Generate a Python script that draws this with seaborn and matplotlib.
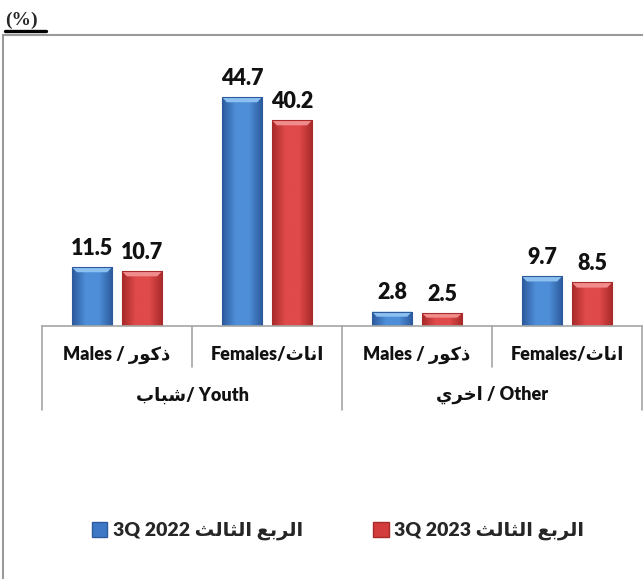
import numpy as np
import pandas as pd
import matplotlib
matplotlib.use("Agg")
import matplotlib.pyplot as plt
import seaborn as sns
from matplotlib.patches import Rectangle, Polygon, Patch
from matplotlib.lines import Line2D
from matplotlib.colors import LinearSegmentedColormap

# Arabic words in presentation forms (visual left-to-right order)
AR_MALES = "\uFEAD\uFEEE\uFEDB\uFEAB"        # ذكور
AR_FEMALES = "\uFE99\uFE8E\uFEE7\uFE8D"      # اناث
AR_YOUTH = "\uFE8F\uFE8E\uFE92\uFEB7"        # شباب
AR_OTHER = "\uFEF1\uFEAE\uFEA7\uFE8D"        # اخري
AR_QUARTER = "\uFE9A\uFEDF\uFE8E\uFE9C\uFEDF\uFE8D \uFECA\uFE91\uFEAE\uFEDF\uFE8D"  # الربع الثالث

# Data
categories = ["Youth Males", "Youth Females", "Other Males", "Other Females"]
sex_labels = ["Males / " + AR_MALES, "Females/" + AR_FEMALES,
              "Males / " + AR_MALES, "Females/" + AR_FEMALES]
group_labels = [AR_YOUTH + "/ Youth", AR_OTHER + " / Other"]
series_names = ["3Q 2022 " + AR_QUARTER, "3Q 2023 " + AR_QUARTER]
q3_2022 = [11.5, 44.7, 2.8, 9.7]
q3_2023 = [10.7, 40.2, 2.5, 8.5]

df = pd.DataFrame({
    "category": categories * 2,
    "series": [series_names[0]] * 4 + [series_names[1]] * 4,
    "value": q3_2022 + q3_2023,
})

sns.set_theme(style="white")
plt.rcParams["font.family"] = ["Lato", "DejaVu Sans"]
plt.rcParams["font.weight"] = "heavy"
TXT_W = "heavy"

W, H = 643, 579
fig = plt.figure(figsize=(W / 100, H / 100), dpi=100)

def px_rect(l, t, r, b):
    return [l / W, 1 - b / H, (r - l) / W, (b - t) / H]

ax = fig.add_axes(px_rect(42, 70, 642, 326))

BLUE, RED = "#3d78c6", "#d23c3c"
palette = {series_names[0]: BLUE, series_names[1]: RED}
sns.barplot(data=df, x="category", y="value", hue="series", order=categories,
            hue_order=series_names, palette=palette, width=0.667, gap=0.2,
            saturation=1, legend=False, ax=ax)

ax.set_xlim(-0.5, 3.5)
ax.set_ylim(0, 50)
xpos = list(ax.get_xticks())
ax.set_xticks([])
ax.set_yticks([])
ax.set_xlabel("")
ax.set_ylabel("")
for s in ["top", "left", "right"]:
    ax.spines[s].set_visible(False)
ax.spines["bottom"].set_color("#a6a6a6")
ax.spines["bottom"].set_linewidth(1.2)

# Bevelled, shaded bars
shades = {
    BLUE: ("#2c5a9c", "#4e8ed8", "#8cc0f0"),
    RED: ("#a82a2a", "#e04a4a", "#f08c8c"),
}
for p in list(ax.patches):
    face = matplotlib.colors.to_hex(p.get_facecolor())
    key = BLUE if abs(int(face[1:3], 16) - 0x3d) < 10 else RED
    dark, mid, light = shades[key]
    x0, w, h = p.get_x(), p.get_width(), p.get_height()
    cmap = LinearSegmentedColormap.from_list("s", [dark, mid, mid, dark])
    grad = np.linspace(0, 1, 64).reshape(1, -1)
    im = ax.imshow(grad, cmap=cmap, aspect="auto", extent=(x0, x0 + w, 0, h),
                   zorder=p.get_zorder() + 0.1)
    im.set_clip_path(p)
    dx = w * 0.12
    dy = min(1.0, h * 0.35)
    ax.add_patch(Polygon([(x0, h), (x0 + w, h), (x0 + w - dx, h - dy), (x0 + dx, h - dy)],
                         closed=True, facecolor=light, edgecolor="none",
                         zorder=p.get_zorder() + 0.2))
    p.set_edgecolor(dark)
    p.set_linewidth(0.8)
    p.set_zorder(p.get_zorder() + 0.3)
    p.set_facecolor("none")

for cont in ax.containers:
    ax.bar_label(cont, fmt="%.1f", padding=6, fontsize=15.5, fontweight=TXT_W,
                 color="#111111")

# Two-level category axis
trans = ax.get_xaxis_transform()
grid_c = "#a6a6a6"
edges = [xpos[0] - 0.5] + [x + 0.5 for x in xpos]
for i, e in enumerate(edges):
    low = -0.33 if i % 2 == 0 else -0.16
    ax.plot([e, e], [0, low], transform=trans, color=grid_c, lw=1.2, clip_on=False)
for x, lab in zip(xpos, sex_labels):
    ax.text(x, -0.113, lab, transform=trans, ha="center", va="center",
            fontsize=13, fontweight=TXT_W, color="#111111")
for gi, lab in enumerate(group_labels):
    gx = (xpos[2 * gi] + xpos[2 * gi + 1]) / 2
    ax.text(gx, -0.27, lab, transform=trans, ha="center", va="center",
            fontsize=13, fontweight=TXT_W, color="#111111")

# Outer frame
fig.patches.append(Rectangle((3 / W, -0.05), 1.1, 1 - 35 / H + 0.05,
                             transform=fig.transFigure, fill=False,
                             edgecolor="#999999", lw=1.5))

# Unit note
fig.text(5 / W, 1 - 20 / H, "(%)", family="Liberation Serif", fontweight="bold",
         fontsize=14, ha="left", va="center")
fig.add_artist(Line2D([5 / W, 46 / W], [1 - 31 / H, 1 - 31 / H],
                      transform=fig.transFigure, color="black", lw=2.4))

# Legend
handles = [Patch(facecolor=BLUE, edgecolor="#2c5a9c"),
           Patch(facecolor=RED, edgecolor="#a82a2a")]
fig.legend(handles, series_names, loc="center",
           bbox_to_anchor=(338 / W, 1 - 531 / H), ncol=2, frameon=False,
           prop={"weight": TXT_W, "size": 14}, handlelength=0.8, handleheight=0.8,
           handletextpad=0.3, columnspacing=3.6)

fig.savefig("out.png", dpi=100)
